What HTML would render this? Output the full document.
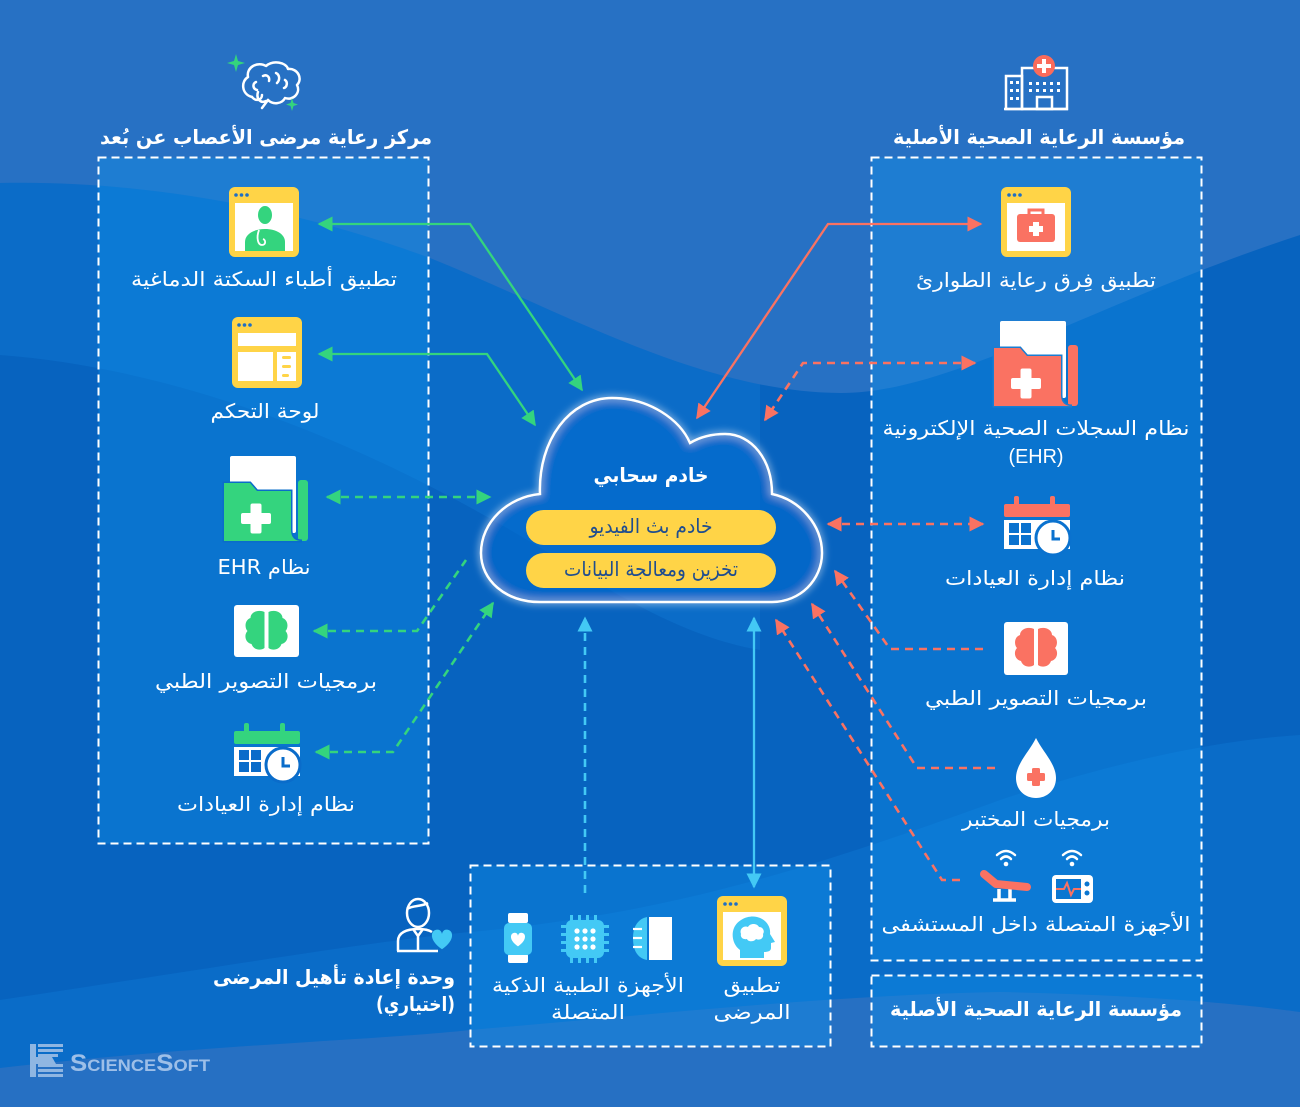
<!DOCTYPE html>
<html><head><meta charset="utf-8">
<style>
html,body{margin:0;padding:0;background:#0763bf;}
svg{display:block;}
.t{font-family:"DejaVu Sans",sans-serif;fill:#fff;font-size:20px;}
.b{font-weight:bold;}
</style></head>
<body>
<svg width="1300" height="1107" viewBox="0 0 1300 1107" xmlns="http://www.w3.org/2000/svg">
<defs>
  <marker id="mg" viewBox="0 0 10 10" refX="9" refY="5" markerUnits="userSpaceOnUse" markerWidth="15" markerHeight="15" orient="auto-start-reverse"><path d="M0,0 L10,5 L0,10 z" fill="#34d47e"/></marker>
  <marker id="mr" viewBox="0 0 10 10" refX="9" refY="5" markerUnits="userSpaceOnUse" markerWidth="15" markerHeight="15" orient="auto-start-reverse"><path d="M0,0 L10,5 L0,10 z" fill="#fa7262"/></marker>
  <marker id="mc" viewBox="0 0 10 10" refX="9" refY="5" markerUnits="userSpaceOnUse" markerWidth="15" markerHeight="15" orient="auto-start-reverse"><path d="M0,0 L10,5 L0,10 z" fill="#43c9f5"/></marker>
  <filter id="glow" x="-20%" y="-20%" width="140%" height="140%">
    <feGaussianBlur stdDeviation="4" result="b"/>
    <feMerge><feMergeNode in="b"/><feMergeNode in="SourceGraphic"/></feMerge>
  </filter>
</defs>

<!-- background -->
<rect x="0" y="0" width="1300" height="1107" fill="#0763bf"/>
<path d="M0,355 C200,370 400,460 560,560 C640,610 700,640 760,650 L760,0 L0,0 Z" fill="#0b6cc8"/>
<path d="M0,0 H1300 V235 C1100,300 950,394 840,393 C700,392 560,310 430,258 C300,210 150,180 0,183 Z" fill="#2771c4"/>
<path d="M0,1000 C200,970 380,940 470,932 C650,915 780,880 1000,800 C1120,760 1220,740 1300,735 V1107 H0 Z" fill="#0a6cc8"/>
<path d="M0,1068 C200,1045 380,1040 470,1030 C650,1015 830,995 1000,992 C1150,995 1250,1005 1300,1012 V1107 H0 Z" fill="#2670c3"/>

<!-- boxes -->
<g fill="rgba(15,145,235,0.38)" stroke="#ffffff" stroke-width="2" stroke-dasharray="8 5">
  <rect x="98.5" y="157.5" width="330" height="686"/>
  <rect x="871.5" y="157.5" width="330" height="803"/>
  <rect x="871.5" y="975.5" width="330" height="71"/>
  <rect x="470.5" y="865.5" width="360" height="181"/>
</g>

<!-- connectors -->
<g fill="none" stroke-width="2.3">
  <polyline points="319,224 470,224 582,390" stroke="#34d47e" marker-start="url(#mg)" marker-end="url(#mg)"/>
  <polyline points="319,354 487,354 535,425" stroke="#34d47e" marker-start="url(#mg)" marker-end="url(#mg)"/>
  <g stroke-dasharray="8 6" stroke-width="2.6">
    <polyline points="327,497 490,497" stroke="#34d47e" marker-start="url(#mg)" marker-end="url(#mg)"/>
    <polyline points="314,631 417,631 466,560" stroke="#34d47e" marker-start="url(#mg)"/>
    <polyline points="316,752 393,752 493,603" stroke="#34d47e" marker-start="url(#mg)" marker-end="url(#mg)"/>
  </g>
  <polyline points="981,224 828,224 697,418" stroke="#fa7262" marker-start="url(#mr)" marker-end="url(#mr)"/>
  <g stroke-dasharray="8 6" stroke-width="2.6">
    <polyline points="975,363 803,363 765,420" stroke="#fa7262" marker-start="url(#mr)" marker-end="url(#mr)"/>
    <polyline points="828,524 983,524" stroke="#fa7262" marker-start="url(#mr)" marker-end="url(#mr)"/>
    <polyline points="983,649 890,649 835,571" stroke="#fa7262" marker-end="url(#mr)"/>
    <polyline points="995,768 917,768 812,604" stroke="#fa7262" marker-end="url(#mr)"/>
    <polyline points="960,880 942,880 776,620" stroke="#fa7262" marker-end="url(#mr)"/>
    <polyline points="585,893 585,618" stroke="#43c9f5" marker-end="url(#mc)"/>
  </g>
  <polyline points="754,618 754,887" stroke="#43c9f5" marker-start="url(#mc)" marker-end="url(#mc)"/>
</g>

<!-- cloud -->
<path d="M540,602 C505,602 481,580 481,553 C481,522 508,497 540,494 C538,440 570,398 612,398 C650,398 680,420 690,443 C700,437 712,434 725,434 C752,434 772,460 772,494 C800,500 822,525 822,553 C822,580 800,602 772,602 Z" fill="rgba(10,105,205,0.35)" stroke="#ffffff" stroke-width="2.5" filter="url(#glow)"/>
<text class="t b" x="651" y="482" text-anchor="middle" direction="rtl" font-size="20" textLength="115" lengthAdjust="spacingAndGlyphs">خادم سحابي</text>
<rect x="526" y="510" width="250" height="35" rx="17.5" fill="#ffd447"/>
<rect x="526" y="553" width="250" height="35" rx="17.5" fill="#ffd447"/>
<text class="t" x="651" y="533" text-anchor="middle" direction="rtl" font-size="17" style="fill:#1f4d8f" textLength="123" lengthAdjust="spacingAndGlyphs">خادم بث الفيديو</text>
<text class="t" x="651" y="576" text-anchor="middle" direction="rtl" font-size="17" style="fill:#1f4d8f" textLength="174" lengthAdjust="spacingAndGlyphs">تخزين ومعالجة البيانات</text>

<!-- LEFT header icon: brain outline -->
<g fill="none" stroke="#fff" stroke-width="2.5" stroke-linecap="round" stroke-linejoin="round">
  <path d="M252,97 C241,94 241,81 248,77 C246,67 258,61 266,66 C273,60 286,62 288,69 C298,68 303,79 297,85 C301,93 293,101 285,98 C282,104 273,105 268,100"/>
  <path d="M268,100 L262,108 M258,92 C256,98 260,104 266,101 M252,97 C256,102 262,100 262,95"/>
  <path d="M263,76 C267,74 270,77 269,81 M276,73 C280,75 280,80 277,83 M285,80 C288,82 287,87 284,88 M256,82 C252,84 253,89 257,90"/>
</g>
<path d="M236,54 L238,61 L245,63 L238,65 L236,72 L234,65 L227,63 L234,61 Z" fill="#34d47e"/>
<path d="M292,98 L293.5,103 L298,104.5 L293.5,106 L292,111 L290.5,106 L286,104.5 L290.5,103 Z" fill="#34d47e"/>
<text class="t b" x="266" y="144" text-anchor="middle" direction="rtl" font-size="21" textLength="332" lengthAdjust="spacingAndGlyphs">مركز رعاية مرضى الأعصاب عن بُعد</text>

<!-- RIGHT header icon: hospital -->
<g fill="none" stroke="#fff" stroke-width="2.5">
  <line x1="1004" y1="109" x2="1068" y2="109"/>
  <rect x="1006" y="76" width="16" height="33"/>
  <rect x="1022" y="68" width="45" height="41"/>
  <rect x="1037" y="97" width="15" height="12"/>
</g>
<g fill="#fff">
  <rect x="1010" y="81" width="3" height="3"/><rect x="1016" y="81" width="3" height="3"/>
  <rect x="1010" y="89" width="3" height="3"/><rect x="1016" y="89" width="3" height="3"/>
  <rect x="1010" y="97" width="3" height="3"/><rect x="1016" y="97" width="3" height="3"/>
  <rect x="1029" y="82" width="3" height="3"/><rect x="1036" y="82" width="3" height="3"/><rect x="1043" y="82" width="3" height="3"/><rect x="1050" y="82" width="3" height="3"/><rect x="1057" y="82" width="3" height="3"/>
  <rect x="1029" y="89" width="3" height="3"/><rect x="1036" y="89" width="3" height="3"/><rect x="1043" y="89" width="3" height="3"/><rect x="1050" y="89" width="3" height="3"/><rect x="1057" y="89" width="3" height="3"/>
</g>
<circle cx="1044" cy="66" r="11" fill="#fa6b5b"/>
<rect x="1042" y="59" width="4" height="14" fill="#fff"/><rect x="1037" y="64" width="14" height="4" fill="#fff"/>
<text class="t b" x="1039" y="144" text-anchor="middle" direction="rtl" font-size="21" textLength="292" lengthAdjust="spacingAndGlyphs">مؤسسة الرعاية الصحية الأصلية</text>

<!-- LEFT items -->
<rect x="229" y="187" width="70" height="70" rx="6" fill="#ffd447"/>
<circle cx="236" cy="195" r="1.8" fill="#1f6fc4"/><circle cx="241.5" cy="195" r="1.8" fill="#1f6fc4"/><circle cx="247" cy="195" r="1.8" fill="#1f6fc4"/>
<rect x="235" y="203" width="58" height="48" fill="#fff"/>
<ellipse cx="265" cy="215" rx="7" ry="9" fill="#34d47e"/>
<path d="M245,251 V242 C245,234 254,229 265,229 C276,229 285,234 285,242 V251 Z" fill="#34d47e"/>
<path d="M259,230 C256,238 258,245 262,245 C266,245 266,240 263,239" fill="none" stroke="#fff" stroke-width="1.8"/>
<text class="t" x="264" y="286" text-anchor="middle" direction="rtl" textLength="266" lengthAdjust="spacingAndGlyphs">تطبيق أطباء السكتة الدماغية</text>

<rect x="232" y="317" width="70" height="71" rx="6" fill="#ffd447"/>
<circle cx="239" cy="325" r="1.8" fill="#1f6fc4"/><circle cx="244.5" cy="325" r="1.8" fill="#1f6fc4"/><circle cx="250" cy="325" r="1.8" fill="#1f6fc4"/>
<rect x="238" y="333" width="58" height="13" fill="#fff"/>
<rect x="238" y="352" width="35" height="29" fill="#fff"/>
<rect x="277" y="352" width="19" height="29" fill="#fff"/>
<rect x="282" y="356" width="9" height="3" rx="1.5" fill="#ffd447"/><rect x="282" y="365" width="9" height="3" rx="1.5" fill="#ffd447"/><rect x="282" y="374" width="7" height="3" rx="1.5" fill="#ffd447"/>
<text class="t" x="265" y="418" text-anchor="middle" direction="rtl" textLength="109" lengthAdjust="spacingAndGlyphs">لوحة التحكم</text>

<g transform="translate(224,456)">
  <rect x="6" y="0" width="66" height="77" rx="2" fill="#fff"/>
  <rect x="74" y="24" width="10" height="61" rx="3" fill="#34d47e"/>
  <path d="M0,27 H26 L33,35 H67 V74 Q67,85 78,85 H0 Z" fill="#34d47e" stroke="#0a6cca" stroke-width="3" paint-order="stroke"/>
  <rect x="17" y="57" width="30" height="11" rx="2" fill="#fff"/>
  <rect x="26.5" y="47.5" width="11" height="30" rx="2" fill="#fff"/>
</g>
<text class="t" x="264" y="574" text-anchor="middle" direction="rtl" textLength="93" lengthAdjust="spacingAndGlyphs">نظام EHR</text>

<rect x="234" y="605" width="65" height="52" rx="3" fill="#fff"/>
<g transform="translate(266.5,631)" fill="#34d47e">
  <path d="M-2,-19 C-8,-22 -16,-19 -16,-13 C-22,-11 -22,-3 -19,0 C-23,4 -21,12 -15,13 C-13,19 -6,20 -2,17 Z"/>
  <path d="M2,-19 C8,-22 16,-19 16,-13 C22,-11 22,-3 19,0 C23,4 21,12 15,13 C13,19 6,20 2,17 Z"/>
</g>
<text class="t" x="266" y="688" text-anchor="middle" direction="rtl" textLength="222" lengthAdjust="spacingAndGlyphs">برمجيات التصوير الطبي</text>

<g transform="translate(234,723)">
  <rect x="10" y="0" width="5" height="13" rx="2" fill="#34d47e"/><rect x="46" y="0" width="5" height="13" rx="2" fill="#34d47e"/>
  <rect x="0" y="8" width="66" height="13" rx="2" fill="#34d47e"/>
  <rect x="0" y="24" width="66" height="29" fill="#fff"/>
  <rect x="5" y="27" width="10" height="10" fill="#0a6cca"/><rect x="17" y="27" width="10" height="10" fill="#0a6cca"/>
  <rect x="5" y="39" width="10" height="10" fill="#0a6cca"/><rect x="17" y="39" width="10" height="10" fill="#0a6cca"/>
  <circle cx="49" cy="42" r="17" fill="#fff" stroke="#0a6cca" stroke-width="3"/>
  <path d="M49,34 V43 H56" fill="none" stroke="#0a6cca" stroke-width="3"/>
</g>
<text class="t" x="266" y="811" text-anchor="middle" direction="rtl" textLength="178" lengthAdjust="spacingAndGlyphs">نظام إدارة العيادات</text>

<!-- RIGHT items -->
<rect x="1001" y="187" width="70" height="70" rx="6" fill="#ffd447"/>
<circle cx="1009" cy="195" r="1.8" fill="#1f6fc4"/><circle cx="1014.5" cy="195" r="1.8" fill="#1f6fc4"/><circle cx="1020" cy="195" r="1.8" fill="#1f6fc4"/>
<rect x="1007" y="203" width="58" height="48" fill="#fff"/>
<path d="M1029,215 V210 H1043 V215" fill="none" stroke="#fa7262" stroke-width="3"/>
<rect x="1017" y="214" width="38" height="28" rx="3" fill="#fa7262"/>
<rect x="1029" y="226" width="14" height="6" fill="#fff"/><rect x="1033" y="222" width="6" height="14" fill="#fff"/>
<text class="t" x="1036" y="287" text-anchor="middle" direction="rtl" textLength="240" lengthAdjust="spacingAndGlyphs">تطبيق فِرق رعاية الطوارئ</text>

<g transform="translate(994,321)">
  <rect x="6" y="0" width="66" height="77" rx="2" fill="#fff"/>
  <rect x="74" y="24" width="10" height="61" rx="3" fill="#fa7262"/>
  <path d="M0,27 H26 L33,35 H67 V74 Q67,85 78,85 H0 Z" fill="#fa7262" stroke="#1a7dd2" stroke-width="3" paint-order="stroke"/>
  <rect x="17" y="57" width="30" height="11" rx="2" fill="#fff"/>
  <rect x="26.5" y="47.5" width="11" height="30" rx="2" fill="#fff"/>
</g>
<text class="t" x="1036" y="435" text-anchor="middle" direction="rtl" textLength="307" lengthAdjust="spacingAndGlyphs">نظام السجلات الصحية الإلكترونية</text>
<text class="t" x="1036" y="463" text-anchor="middle" textLength="55" lengthAdjust="spacingAndGlyphs" style="font-family:'Liberation Sans',sans-serif">(EHR)</text>

<g transform="translate(1004,496)">
  <rect x="10" y="0" width="5" height="13" rx="2" fill="#fa7262"/><rect x="46" y="0" width="5" height="13" rx="2" fill="#fa7262"/>
  <rect x="0" y="8" width="66" height="13" rx="2" fill="#fa7262"/>
  <rect x="0" y="24" width="66" height="29" fill="#fff"/>
  <rect x="5" y="27" width="10" height="10" fill="#0a72cf"/><rect x="17" y="27" width="10" height="10" fill="#0a72cf"/>
  <rect x="5" y="39" width="10" height="10" fill="#0a72cf"/><rect x="17" y="39" width="10" height="10" fill="#0a72cf"/>
  <circle cx="49" cy="42" r="17" fill="#fff" stroke="#0a72cf" stroke-width="3"/>
  <path d="M49,34 V43 H56" fill="none" stroke="#0a72cf" stroke-width="3"/>
</g>
<text class="t" x="1035" y="585" text-anchor="middle" direction="rtl" textLength="180" lengthAdjust="spacingAndGlyphs">نظام إدارة العيادات</text>

<rect x="1004" y="622" width="64" height="53" rx="3" fill="#fff"/>
<g transform="translate(1036,648)" fill="#fa7262">
  <path d="M-2,-19 C-8,-22 -16,-19 -16,-13 C-22,-11 -22,-3 -19,0 C-23,4 -21,12 -15,13 C-13,19 -6,20 -2,17 Z"/>
  <path d="M2,-19 C8,-22 16,-19 16,-13 C22,-11 22,-3 19,0 C23,4 21,12 15,13 C13,19 6,20 2,17 Z"/>
</g>
<text class="t" x="1036" y="705" text-anchor="middle" direction="rtl" textLength="222" lengthAdjust="spacingAndGlyphs">برمجيات التصوير الطبي</text>

<path d="M1036,738 C1029,752 1016,764 1016,778 C1016,790 1025,798 1036,798 C1047,798 1056,790 1056,778 C1056,764 1043,752 1036,738 Z" fill="#fff"/>
<rect x="1027" y="773" width="18" height="8" rx="1.5" fill="#fa7262"/><rect x="1032" y="768" width="8" height="18" rx="1.5" fill="#fa7262"/>
<text class="t" x="1036" y="826" text-anchor="middle" direction="rtl" textLength="148" lengthAdjust="spacingAndGlyphs">برمجيات المختبر</text>

<g fill="none" stroke="#fff" stroke-width="2.5" stroke-linecap="round">
  <path d="M1001,859 Q1006,854 1011,859"/><path d="M997,855 Q1006,847 1015,855"/>
  <path d="M1067,859 Q1072,854 1077,859"/><path d="M1063,855 Q1072,847 1081,855"/>
</g>
<circle cx="1006" cy="864" r="2.3" fill="#fff"/><circle cx="1072" cy="864" r="2.3" fill="#fff"/>
<g stroke="#fff" stroke-width="3.5" fill="none">
  <line x1="999" y1="889" x2="999" y2="900"/><line x1="1010" y1="889" x2="1010" y2="900"/>
  <line x1="993" y1="900" x2="1016" y2="900"/>
</g>
<path d="M984,874 L996,884 L1027,887" fill="none" stroke="#fa7262" stroke-width="8" stroke-linecap="round" stroke-linejoin="round"/>
<rect x="1052" y="875" width="41" height="28" rx="4" fill="#fff"/>
<rect x="1056" y="879" width="25" height="20" fill="#0a76d0"/>
<polyline points="1056,889 1064,889 1067,883 1071,895 1074,889 1081,889" fill="none" stroke="#fa7262" stroke-width="2"/>
<circle cx="1087" cy="884" r="2.5" fill="#0a76d0"/><circle cx="1087" cy="893" r="2.5" fill="#0a76d0"/>
<text class="t" x="1036" y="931" text-anchor="middle" direction="rtl" textLength="309" lengthAdjust="spacingAndGlyphs">الأجهزة المتصلة داخل المستشفى</text>

<text class="t b" x="1036" y="1016" text-anchor="middle" direction="rtl" textLength="292" lengthAdjust="spacingAndGlyphs">مؤسسة الرعاية الصحية الأصلية</text>

<!-- bottom center box -->
<rect x="717" y="896" width="70" height="70" rx="6" fill="#ffd447"/>
<circle cx="725" cy="904" r="1.8" fill="#1f6fc4"/><circle cx="730.5" cy="904" r="1.8" fill="#1f6fc4"/><circle cx="736" cy="904" r="1.8" fill="#1f6fc4"/>
<rect x="723" y="912" width="58" height="48" fill="#fff"/>
<path d="M740,958 V950 C733,945 731,935 734,928 C738,919 749,915 757,917 C766,919 771,927 770,934 L775,942 L771,943 V948 C771,951 768,952 764,952 V958 Z" fill="#43c9f5"/>
<path d="M741,934 C739,929 744,925 748,927 C750,923 757,923 759,927 C763,927 765,931 763,934 C764,938 760,941 756,939 C754,942 748,942 747,939 C743,940 740,937 741,934 Z" fill="#fff"/>
<text class="t" x="752" y="992" text-anchor="middle" direction="rtl" textLength="57" lengthAdjust="spacingAndGlyphs">تطبيق</text>
<text class="t" x="752" y="1019" text-anchor="middle" direction="rtl" textLength="77" lengthAdjust="spacingAndGlyphs">المرضى</text>

<rect x="508" y="913" width="20" height="10" rx="2" fill="#fff"/>
<rect x="508" y="954" width="20" height="9" rx="2" fill="#fff"/>
<rect x="504" y="923" width="28" height="32" rx="5" fill="#43c9f5"/>
<path transform="translate(518,940) scale(0.8)" d="M0,8 C-12,0 -10,-9 -4,-9 C-1,-9 0,-6 0,-5 C0,-6 1,-9 4,-9 C10,-9 12,0 0,8 Z" fill="#fff"/>
<g fill="#43c9f5">
  <rect x="566" y="920" width="38" height="38" rx="6"/>
  <rect x="570" y="915" width="3" height="6"/><rect x="578" y="915" width="3" height="6"/><rect x="586" y="915" width="3" height="6"/><rect x="594" y="915" width="3" height="6"/>
  <rect x="570" y="957" width="3" height="6"/><rect x="578" y="957" width="3" height="6"/><rect x="586" y="957" width="3" height="6"/><rect x="594" y="957" width="3" height="6"/>
  <rect x="561" y="925" width="6" height="3"/><rect x="561" y="933" width="6" height="3"/><rect x="561" y="941" width="6" height="3"/><rect x="561" y="949" width="6" height="3"/>
  <rect x="603" y="925" width="6" height="3"/><rect x="603" y="933" width="6" height="3"/><rect x="603" y="941" width="6" height="3"/><rect x="603" y="949" width="6" height="3"/>
</g>
<g fill="#fff">
  <circle cx="577" cy="931" r="2.6"/><circle cx="585" cy="931" r="2.6"/><circle cx="593" cy="931" r="2.6"/>
  <circle cx="577" cy="939" r="2.6"/><circle cx="585" cy="939" r="2.6"/><circle cx="593" cy="939" r="2.6"/>
  <circle cx="577" cy="947" r="2.6"/><circle cx="585" cy="947" r="2.6"/><circle cx="593" cy="947" r="2.6"/>
</g>
<path d="M647,917 C637,919 633,928 633,938 C633,950 637,958 647,960 Z" fill="#43c9f5"/>
<g stroke="#fff" stroke-width="2.2"><line x1="633" y1="929" x2="642" y2="929"/><line x1="633" y1="938" x2="642" y2="938"/><line x1="633" y1="947" x2="642" y2="947"/></g>
<rect x="649" y="917" width="23" height="43" fill="#fff"/>
<text class="t" x="588" y="992" text-anchor="middle" direction="rtl" textLength="192" lengthAdjust="spacingAndGlyphs">الأجهزة الطبية الذكية</text>
<text class="t" x="588" y="1019" text-anchor="middle" direction="rtl" textLength="74" lengthAdjust="spacingAndGlyphs">المتصلة</text>

<!-- rehab unit -->
<g fill="none" stroke="#fff" stroke-width="2.5" stroke-linejoin="round">
  <ellipse cx="418" cy="913" rx="11" ry="14"/>
  <path d="M407,909 C413,905 421,907 428,903"/>
  <path d="M398,951 V941 C398,933 406,929 418,929 C424,929 429,930 432,932"/>
  <line x1="397" y1="951" x2="438" y2="951"/>
  <path d="M413,929 L418,936 L423,929 M418,936 V951"/>
</g>
<path transform="translate(442,940) scale(1.15)" d="M0,8 C-12,0 -10,-9 -4,-9 C-1,-9 0,-6 0,-5 C0,-6 1,-9 4,-9 C10,-9 12,0 0,8 Z" fill="#43c9f5"/>
<text class="t b" x="334" y="984" text-anchor="middle" direction="rtl" textLength="242" lengthAdjust="spacingAndGlyphs">وحدة إعادة تأهيل المرضى</text>
<text class="t b" x="415.5" y="1011" text-anchor="middle" direction="rtl" textLength="79" lengthAdjust="spacingAndGlyphs">(اختياري)</text>

<!-- logo -->
<g fill="#8fb6e2">
  <rect x="30" y="1044" width="6" height="33"/>
  <rect x="38" y="1044" width="25" height="3"/><rect x="38" y="1049" width="25" height="3"/><rect x="38" y="1054" width="20" height="3"/>
  <rect x="38" y="1064" width="25" height="3"/><rect x="38" y="1069" width="25" height="3"/><rect x="38" y="1074" width="25" height="3"/>
  <path d="M36,1057 L52,1057 L56,1064 L36,1064 Z"/>
</g>
<text x="70" y="1071" font-family="Liberation Sans, sans-serif" font-weight="bold" font-size="24" style="font-variant:small-caps" fill="#9dbfe8" textLength="140" lengthAdjust="spacingAndGlyphs">ScienceSoft</text>
</svg>
</body></html>
